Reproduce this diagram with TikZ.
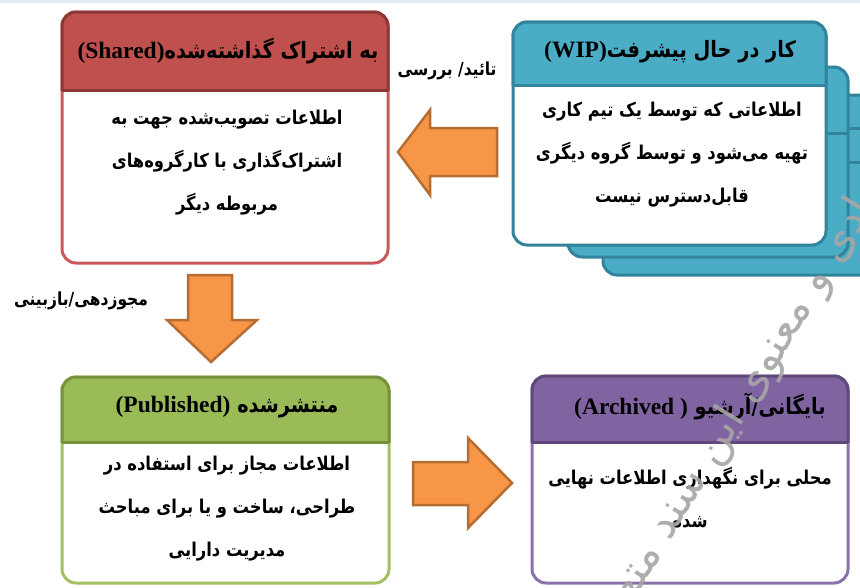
\documentclass[tikz,border=0pt]{standalone}
\usepackage{fontspec}
\TeXXeTstate=1
\newfontfamily\fafont[Script=Arabic, FakeStretch=0.86]{DejaVu Sans}
\newfontfamily\wmfont[Script=Arabic]{DejaVu Sans}
\newfontfamily\latfont{Liberation Serif}
\newcommand{\fa}[1]{{\fafont\beginR #1\endR}}
\newcommand{\lat}[1]{\beginL{\latfont\fontsize{23.5}{24}\selectfont #1}\endL}
\definecolor{redfill}{HTML}{C0504D}
\definecolor{reddark}{HTML}{8C3836}
\definecolor{redlight}{HTML}{C9595B}
\definecolor{bluefill}{HTML}{4BACC6}
\definecolor{bluedark}{HTML}{31849B}
\definecolor{greenfill}{HTML}{9BBB59}
\definecolor{greendark}{HTML}{76923C}
\definecolor{greenlight}{HTML}{A3C164}
\definecolor{purplefill}{HTML}{8064A2}
\definecolor{purpledark}{HTML}{5F497A}
\definecolor{purplelight}{HTML}{8B72AC}
\definecolor{orangefill}{HTML}{F79646}
\definecolor{orangedark}{HTML}{B66D31}
\definecolor{topband}{HTML}{E4EAF2}
\definecolor{wmgray}{HTML}{A6A6A6}
\newcommand{\infobox}[8]{%
  \path[draw=#8, line width=3, fill=white, rounded corners=14] (#1,#2) rectangle (#3,#4);
  \begin{scope}
    \clip (#1-5,#2-5) rectangle (#3+5,#5);
    \path[draw=#7, line width=3, fill=#6, rounded corners=14] (#1,#2) rectangle (#3,#4);
  \end{scope}
  \draw[#7, line width=3] (#1,#5) -- (#3,#5);
}
\tikzset{
  headtext/.style={font=\bfseries\fontsize{22.5}{24}\selectfont, text=black, inner sep=0},
  bodytext/.style={font=\bfseries\fontsize{19}{43}\selectfont, text=black, align=center, inner sep=0},
  labeltext/.style={font=\bfseries\fontsize{18}{20}\selectfont, text=black, inner sep=0},
  blockarrow/.style={fill=orangefill, draw=orangedark, line width=2.5, line join=miter},
}
\begin{document}
\begin{tikzpicture}[x=1pt,y=-1pt]
\useasboundingbox (0,0) rectangle (860,587);
\fill[white] (0,0) rectangle (860,587);
\fill[topband] (0,0) rectangle (860,3);

% WIP stack (back boxes)
\path[draw=bluedark, line width=3, fill=bluefill, rounded corners=14] (603,95) rectangle (885,275);
\draw[bluedark, line width=3] (603,128) -- (885,128);
\draw[bluedark, line width=3] (603,162) -- (885,162);
\path[draw=bluedark, line width=3, fill=bluefill, rounded corners=14] (568,67) rectangle (848,257);
\draw[bluedark, line width=3] (568,133) -- (848,133);

% boxes
\infobox{62}{12}{388}{263}{90}{redfill}{reddark}{redlight}
\infobox{513}{22}{826}{245}{85}{bluefill}{bluedark}{bluedark}
\infobox{62}{377}{389}{583}{442}{greenfill}{greendark}{greenlight}
\infobox{532}{376}{848}{583}{442}{purplefill}{purpledark}{purplelight}

% texts
\node[headtext] (sharedh) at (228,51) {\fa{به اشتراک گذاشته‌شده\lat{(Shared)}}};
\node[bodytext] (sharedb) at (227,163) {\fa{اطلاعات تصویب‌شده جهت به}\\\fa{اشتراک‌گذاری با کارگروه‌های}\\\fa{مربوطه دیگر}};
\node[headtext] (wiph) at (670,52) {\fa{کار در حال پیشرفت\lat{(WIP)}}};
\node[bodytext] (wipb) at (672,155) {\fa{اطلاعاتی که توسط یک تیم کاری}\\\fa{تهیه می‌شود و توسط گروه دیگری}\\\fa{قابل‌دسترس نیست}};
\node[headtext] (pubh) at (227,407) {\fa{منتشرشده \lat{(Published)}}};
\node[bodytext] (pubb) at (227,509) {\fa{اطلاعات مجاز برای استفاده در}\\\fa{طراحی، ساخت و یا برای مباحث}\\\fa{مدیریت دارایی}};
\node[headtext] (arch) at (700,406) {\fa{بایگانی/آرشیو \lat{(Archived )}}};
\node[bodytext] (arcb) at (690,498) {\fa{محلی برای نگهداری اطلاعات نهایی}\\\fa{شده}};

% block arrows
\draw[blockarrow] (398,152) -- (430,110) -- (430,128) -- (497,128) -- (497,176) -- (430,176) -- (430,195) -- cycle;
\draw[blockarrow] (211,362) -- (167,320) -- (188,320) -- (188,275) -- (232,275) -- (232,320) -- (257,320) -- cycle;
\draw[blockarrow] (512,483) -- (468,438) -- (468,462) -- (413,462) -- (413,505) -- (468,505) -- (468,528) -- cycle;

% labels
\node[labeltext] (approve) at (447,71) {\fa{تائید/ بررسی}};
\node[labeltext] (authorize) at (81,301) {\fa{مجوزدهی/بازبینی}};

% watermark
\begin{scope}
\clip (0,0) rectangle (860,587);
\node[text=wmgray, opacity=0.9, font=\wmfont\fontsize{44}{48}\selectfont, rotate=58.5, inner sep=0, anchor=east] (wm) at (877,182) {\beginR مادی و معنوی این سند متعلق\endR};
\end{scope}
\end{tikzpicture}
\end{document}
